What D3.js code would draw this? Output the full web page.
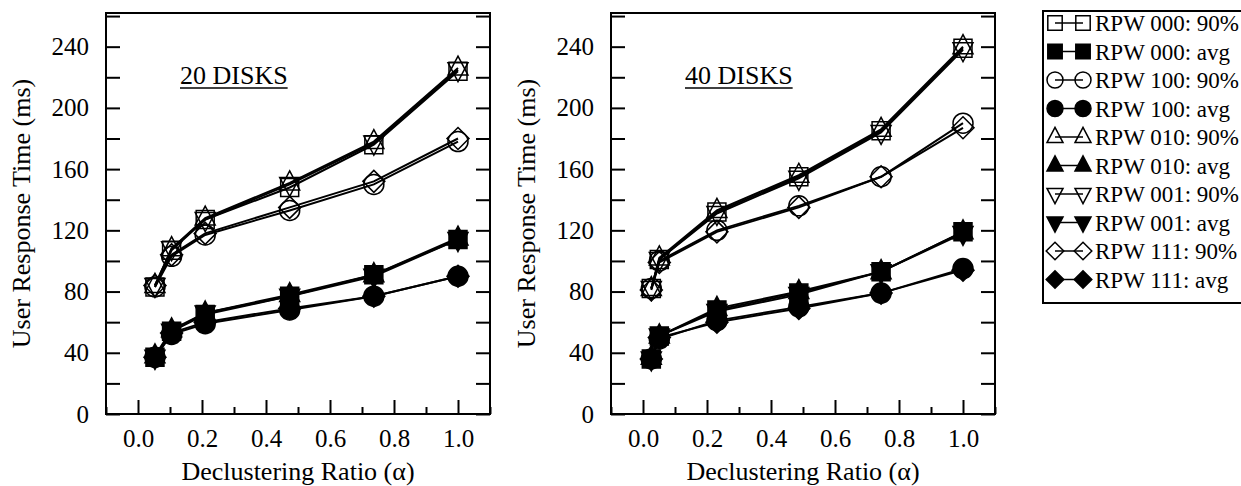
<!DOCTYPE html>
<html>
<head>
<meta charset="utf-8">
<script src="https://cdn.jsdelivr.net/npm/d3@7"></script>
<style>
body { margin: 0; background: #fff; }
svg, svg text { font-family: "Liberation Serif", "Tinos", "Times New Roman", "DejaVu Serif", serif; }
</style>
</head>
<body>
<div id="chart"></div>
<script>
// declustering ratio of each run
var alpha20 = [0.053, 0.105, 0.21, 0.474, 0.737, 1.0];
var alpha40 = [0.026, 0.051, 0.231, 0.487, 0.744, 1.0];

// legend / series
var seriesNames = ["RPW 000: 90%", "RPW 000: avg", "RPW 100: 90%", "RPW 100: avg",
    "RPW 010: 90%", "RPW 010: avg", "RPW 001: 90%", "RPW 001: avg",
    "RPW 111: 90%", "RPW 111: avg"];
var seriesShapes = ["square", "square", "circle", "circle", "up", "up", "down", "down", "diamond", "diamond"];
var seriesFilled = [false, true, false, true, false, true, false, true, false, true];

// 20 disks (ms)
var disks20 = [
    [83, 107, 127, 148, 176, 224],
    [37, 54, 65, 77, 91, 114],
    [83, 103, 117, 133, 150, 178],
    [37, 52, 59, 68, 77, 90],
    [84, 108, 128, 151, 178, 226],
    [38, 55, 66, 78, 91, 115],
    [84, 108, 127, 150, 177, 225],
    [37, 54, 66, 77, 90, 114],
    [84, 104, 118, 135, 152, 180],
    [37, 53, 60, 69, 77, 90]
];

// 40 disks (ms)
var disks40 = [
    [82, 101, 132, 155, 185, 239],
    [36, 51, 68, 79, 93, 119],
    [82, 100, 120, 136, 155, 190],
    [36, 49, 61, 70, 79, 95],
    [82, 102, 133, 156, 186, 240],
    [37, 51, 69, 80, 93, 119],
    [82, 101, 131, 154, 184, 238],
    [36, 51, 67, 78, 93, 118],
    [81, 99, 119, 135, 155, 187],
    [36, 50, 60, 69, 79, 94]
];

var xTicks = [0, 0.2, 0.4, 0.6, 0.8, 1.0];
var xMinor = [-0.1, 0.1, 0.3, 0.5, 0.7, 0.9, 1.1];
var yTicks = [0, 20, 40, 60, 80, 100, 120, 140, 160, 180, 200, 220, 240, 260];

var svgWidth = 1241;
var svgHeight = 486;
var plotTop = 13;
var plotBottom = 414;
var plotWidth = 384;
var serif = "Liberation Serif, Tinos, Times New Roman, DejaVu Serif, serif";

var svg = d3.select("#chart")
    .append("svg")
    .attr("width", svgWidth)
    .attr("height", svgHeight)
    .attr("font-family", serif);

// marker outline for a shape, k = scale
function markerPath(shape, k) {
    var p = d3.path();
    if (shape == "square") {
        p.rect(-9 * k, -9 * k, 18 * k, 18 * k);
    } else if (shape == "circle") {
        p.arc(0, 0, 10 * k, 0, 2 * Math.PI);
    } else if (shape == "up") {
        p.moveTo(0, -12 * k); p.lineTo(10 * k, 7 * k); p.lineTo(-10 * k, 7 * k); p.closePath();
    } else if (shape == "down") {
        p.moveTo(0, 12 * k); p.lineTo(10 * k, -7 * k); p.lineTo(-10 * k, -7 * k); p.closePath();
    } else {
        p.moveTo(0, -11 * k); p.lineTo(11 * k, 0); p.lineTo(0, 11 * k); p.lineTo(-11 * k, 0); p.closePath();
    }
    return p.toString();
}

function drawPanel(left, title, xs, data) {
    var xScale = d3.scaleLinear().domain([-0.1, 1.1]).range([left, left + plotWidth]);
    var yScale = d3.scaleLinear().domain([0, 262]).range([plotBottom, plotTop]);

    var g = svg.append("g");

    // ticks (inward)
    g.append("g")
        .attr("transform", `translate(0, ${plotBottom})`)
        .call(d3.axisBottom(xScale).tickValues(xTicks).tickFormat(d3.format(".1f"))
            .tickSizeInner(-14).tickSizeOuter(0).tickPadding(15))
        .call(a => a.select(".domain").remove());
    g.append("g")
        .attr("transform", `translate(0, ${plotBottom})`)
        .call(d3.axisBottom(xScale).tickValues(xMinor).tickFormat("")
            .tickSizeInner(-7).tickSizeOuter(0))
        .call(a => a.select(".domain").remove());
    g.append("g")
        .attr("transform", `translate(${left}, 0)`)
        .call(d3.axisLeft(yScale).tickValues(yTicks).tickFormat(d => d % 40 == 0 && d <= 240 ? d : "")
            .tickSizeInner(-14).tickSizeOuter(0).tickPadding(17))
        .call(a => a.select(".domain").remove());
    g.append("g")
        .attr("transform", `translate(${left + plotWidth}, 0)`)
        .call(d3.axisRight(yScale).tickValues(yTicks).tickFormat("")
            .tickSizeInner(-14).tickSizeOuter(0))
        .call(a => a.select(".domain").remove());

    g.selectAll("g").attr("font-family", serif).attr("font-size", 25);
    g.selectAll(".tick line").attr("stroke", "#000").attr("stroke-width", 2);
    g.selectAll(".tick text").attr("fill", "#000");

    // frame
    g.append("rect")
        .attr("x", left).attr("y", plotTop)
        .attr("width", plotWidth).attr("height", plotBottom - plotTop)
        .attr("fill", "none").attr("stroke", "#000").attr("stroke-width", 2);

    // lines
    var line = d3.line()
        .x((d, i) => xScale(xs[i]))
        .y(d => yScale(d));
    data.forEach(function(vals, s) {
        g.append("path")
            .attr("d", line(vals))
            .attr("fill", "none")
            .attr("stroke", "#000")
            .attr("stroke-width", 2);
    });

    // markers
    data.forEach(function(vals, s) {
        g.append("g").selectAll("path")
            .data(vals)
            .enter()
            .append("path")
            .attr("transform", (d, i) => `translate(${xScale(xs[i])}, ${yScale(d)})`)
            .attr("d", markerPath(seriesShapes[s], 1))
            .attr("fill", seriesFilled[s] ? "#000" : "none")
            .attr("stroke", "#000")
            .attr("stroke-width", 1.5);
    });

    // panel title, underlined
    var t = g.append("text")
        .attr("x", left + 74)
        .attr("y", 84)
        .attr("font-size", 26)
        .text(title);
    var tw = t.node().getComputedTextLength();
    g.append("line")
        .attr("x1", left + 74).attr("x2", left + 74 + tw)
        .attr("y1", 88).attr("y2", 88)
        .attr("stroke", "#000").attr("stroke-width", 1.5);

    // axis labels
    g.append("text")
        .attr("transform", `translate(${left - 76}, ${(plotTop + plotBottom) / 2}) rotate(-90)`)
        .attr("text-anchor", "middle")
        .attr("font-size", 26)
        .text("User Response Time (ms)");

    g.append("text")
        .attr("x", left + plotWidth / 2)
        .attr("y", 480)
        .attr("text-anchor", "middle")
        .attr("font-size", 26)
        .text("Declustering Ratio (α)");
}

drawPanel(106, "20 DISKS", alpha20, disks20);
drawPanel(611, "40 DISKS", alpha40, disks40);

// legend
var legend = svg.append("g");
legend.append("rect")
    .attr("x", 1043).attr("y", 11)
    .attr("width", 230).attr("height", 292)
    .attr("fill", "none").attr("stroke", "#000").attr("stroke-width", 2);

seriesNames.forEach(function(name, i) {
    var cy = 23 + i * 28.5;
    legend.append("line")
        .attr("x1", 1055).attr("x2", 1083)
        .attr("y1", cy).attr("y2", cy)
        .attr("stroke", "#000").attr("stroke-width", 1.5);
    [1055, 1083].forEach(function(cx) {
        legend.append("path")
            .attr("transform", `translate(${cx}, ${cy})`)
            .attr("d", markerPath(seriesShapes[i], 0.8))
            .attr("fill", seriesFilled[i] ? "#000" : "none")
            .attr("stroke", "#000")
            .attr("stroke-width", 1.5);
    });
    legend.append("text")
        .attr("x", 1095)
        .attr("y", cy)
        .attr("dy", "0.35em")
        .attr("font-size", 23)
        .text(name);
});
</script>
</body>
</html>
